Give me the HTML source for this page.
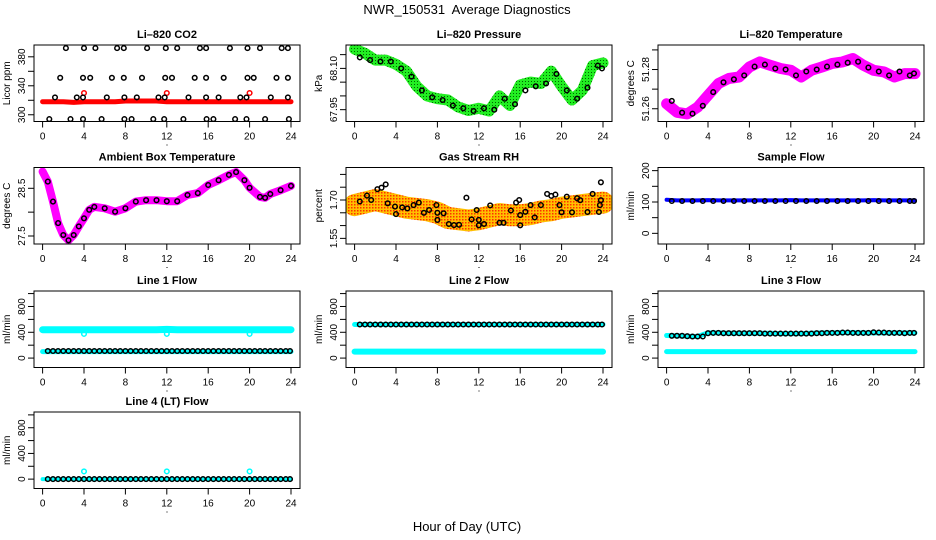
<!DOCTYPE html>
<html><head><meta charset="utf-8"><style>
html,body{margin:0;padding:0;background:#fff;}
svg{display:block;font-family:"Liberation Sans",Arial,sans-serif;}
</style></head><body>
<svg id="chart" width="936" height="540" viewBox="0 0 936 540" xmlns="http://www.w3.org/2000/svg">
<defs>
<pattern id="rhpat" width="3" height="3" patternUnits="userSpaceOnUse"><rect width="3" height="3" fill="#ffc000"/><rect width="1.5" height="1.5" fill="#ff3000"/></pattern>
<pattern id="grpat" width="3" height="3" patternUnits="userSpaceOnUse"><rect width="3" height="3" fill="#22ee22"/><rect width="1" height="1" fill="#006600"/></pattern>
</defs>
<text x="467" y="14" text-anchor="middle" font-size="13" style="white-space:pre">NWR_150531  Average Diagnostics</text>
<text x="467" y="531" text-anchor="middle" font-size="13">Hour of Day (UTC)</text>
</svg>
<script>
// ---- data ----
const hrs = [0,1,2,3,4,5,6,7,8,9,10,11,12,13,14,15,16,17,18,19,20,21,22,23,24];
const hrsHalf = [0.5,1.5,2.5,3.5,4.5,5.5,6.5,7.5,8.5,9.5,10.5,11.5,12.5,13.5,14.5,15.5,16.5,17.5,18.5,19.5,20.5,21.5,22.5,23.5,23.9];
const flowHours = [0.5,1,1.5,2,2.5,3,3.5,4,4.5,5,5.5,6,6.5,7,7.5,8,8.5,9,9.5,10,10.5,11,11.5,12,12.5,13,13.5,14,14.5,15,15.5,16,16.5,17,17.5,18,18.5,19,19.5,20,20.5,21,21.5,22,22.5,23,23.5,23.9];

const co2Red = [318,318,318,317,318,318,318,318,319,319,319,319,318,318,318,318,318,318,318,318,318,318,318,318,318];
const co2RedOutHours = [4,12,20];
const co2RedOut = [330,330,330];
const co2BlackHours = [2.25,4.0,5.1,7.2,7.85,10.1,11.9,13.0,15.2,15.8,18.1,19.8,21.0,23.1,23.7,
 1.7,3.9,4.6,6.7,7.85,9.6,11.85,12.5,14.7,15.8,17.5,19.8,20.4,22.6,23.7,
 1.2,3.3,3.9,6.2,7.9,9.1,11.2,11.8,14.1,15.8,17.0,19.1,19.7,22.05,23.7,
 0.65,2.7,3.9,5.7,7.9,8.6,10.7,11.75,13.6,15.85,16.5,18.6,19.7,21.5,23.8];
const co2Black = [392,392,392,392,392,392,392,392,392,392,392,392,392,392,392,
 351,351,351,351,351,351,351,351,351,351,351,351,351,351,351,
 324,324,324,324,324,324,324,324,324,324,324,324,324,324,324,
 294,294,294,294,294,294,294,294,294,294,294,294,294,294,294];

const presGreen = [68.17,68.155,68.13,68.13,68.115,68.09,68.035,68.0,67.99,67.985,67.96,67.947,67.955,67.945,68.0,67.965,68.04,68.05,68.045,68.09,68.035,67.985,68.02,68.11,68.12];
const presBlack = [68.14,68.13,68.125,68.125,68.10,68.07,68.02,67.995,67.985,67.965,67.955,67.945,67.955,67.95,67.99,67.97,68.02,68.035,68.045,68.08,68.02,67.99,68.03,68.11,68.10];

const tempMag = [51.2626,51.2582,51.2574,51.2608,51.2668,51.2728,51.2754,51.2762,51.2813,51.2839,51.2822,51.2805,51.2796,51.2762,51.2796,51.2813,51.2831,51.2839,51.2856,51.2822,51.2796,51.2788,51.2762,51.2779,51.2779];
const tempBlack = [51.2640,51.2580,51.2575,51.2615,51.2685,51.2735,51.2750,51.2770,51.2815,51.2825,51.2805,51.2800,51.2770,51.2790,51.2800,51.2815,51.2825,51.2835,51.2840,51.2810,51.2790,51.2770,51.2790,51.2770,51.2780];

const ambHours = [0,0.5,1,1.5,2,2.5,3,3.5,4,4.5,5,6,7,8,9,10,11,12,13,14,15,16,17,18,18.7,19.5,20,21,21.5,22,23,24];
const ambMag = [28.85,28.64,28.22,27.77,27.52,27.41,27.52,27.70,27.87,28.05,28.11,28.08,28.01,28.08,28.22,28.25,28.25,28.23,28.23,28.36,28.40,28.57,28.67,28.78,28.84,28.67,28.51,28.32,28.30,28.38,28.46,28.55];

const rhOrange = [1.68,1.69,1.70,1.69,1.68,1.67,1.665,1.66,1.65,1.63,1.625,1.62,1.625,1.635,1.645,1.64,1.64,1.645,1.655,1.66,1.67,1.675,1.68,1.685,1.69];
const rhBlackHours = [0.5,1.2,1.6,2.2,2.6,3.0,3.2,3.9,4.0,4.6,5.1,5.7,6.2,6.7,7.2,7.9,8.0,8.0,8.6,9.1,9.6,10.1,10.8,11.3,11.8,12.0,12.0,12.5,13.1,14.0,14.4,15.1,15.6,15.9,16.0,16.0,16.5,17.0,17.4,18.0,18.6,19.0,19.4,19.8,20.0,20.5,21.0,21.5,21.8,22.5,23.0,23.6,23.7,23.8,23.8];
const rhBlack = [1.694,1.717,1.70,1.742,1.748,1.761,1.687,1.674,1.645,1.671,1.667,1.680,1.690,1.650,1.661,1.680,1.650,1.622,1.648,1.606,1.602,1.603,1.709,1.624,1.661,1.622,1.601,1.606,1.679,1.611,1.611,1.659,1.690,1.700,1.641,1.601,1.654,1.680,1.632,1.680,1.724,1.716,1.721,1.680,1.652,1.713,1.652,1.707,1.699,1.653,1.724,1.653,1.680,1.699,1.769];

const sampleBlue = [107,105,105,105,106,105,105,105,105,105,105,105,106,105,105,105,105,105,105,105,106,105,105,105,105];
const sampleBlack = [103,103,103,103,103,103,103,103,103,103,103,103,103,103,103,103,103,103,103,103,103,103,103,103,103];

const line1CyanHi = [440,440,440,440,440,440,440,440,440,440,440,440,445,440,440,440,440,440,440,440,440,440,440,440,440];
const line1CyanLo = [100,100,100,100,100,100,100,100,100,100,100,100,100,100,100,100,100,100,100,100,100,100,100,100,100];
const line1CyanOutHours = [4,12,20];
const line1CyanOut = [375,375,375];
const line1Black = [110,110,110,110,110,110,110,110,110,110,110,110,110,110,110,110,110,110,110,110,110,110,110,110,110,110,110,110,110,110,110,110,110,110,110,110,110,110,110,110,110,110,110,110,110,110,110,110];

const line2CyanHi = [520,520,520,520,520,520,520,520,520,520,520,520,520,520,520,520,520,520,520,520,520,520,520,520,520];
const line2CyanLo = [100,100,100,100,100,100,100,100,100,100,100,100,100,100,100,100,100,100,100,100,100,100,100,100,100];
const line2Black = [520,520,520,520,520,520,520,520,520,520,520,520,520,520,520,520,520,520,520,520,520,520,520,520,520,520,520,520,520,520,520,520,520,520,520,520,520,520,520,520,520,520,520,520,520,520,520,520];

const line3CyanHi = [350,345,340,335,390,390,385,385,385,385,385,380,380,380,385,390,390,395,395,390,390,390,390,390,390];
const line3CyanLo = [100,100,100,100,100,100,100,100,100,100,100,100,100,100,100,100,100,100,100,100,100,100,100,100,100];
const line3Black = [345,345,345,340,335,335,335,385,390,390,385,385,385,385,385,385,385,385,380,380,380,380,380,380,380,380,380,380,385,385,390,390,390,395,395,390,390,390,390,400,395,395,390,390,390,385,390,390];

const line4Cyan = [0,0,0,0,0,0,0,0,0,0,0,0,0,0,0,0,0,0,0,0,0,0,0,0,0];
const line4CyanOutHours = [4,12,20];
const line4CyanOut = [120,120,120];
const line4Black = [0,0,0,0,0,0,0,0,0,0,0,0,0,0,0,0,0,0,0,0,0,0,0,0,0,0,0,0,0,0,0,0,0,0,0,0,0,0,0,0,0,0,0,0,0,0,0,0];

const xTicks = [0,4,8,12,16,20,24];
const flowTicks = [0,200,400,600,800,1000];
const flowLabels = ["0","","400","","800",""];

// ---- drawing ----
const svg = document.getElementById('chart');
const NS = 'http://www.w3.org/2000/svg';
const colL = [34,346,658], rowT = [45,167.5,291,412], W = 266, H = 76.5;
function mk(tag, attrs, parent){ const e=document.createElementNS(NS,tag); for(const k in attrs) e.setAttribute(k,attrs[k]); (parent||svg).appendChild(e); return e; }

function panel(name, c, r, title, ylab, ymin, ymax, yticks, ylabels){
  const L=colL[c], T=rowT[r];
  const g = mk('g',{});
  
  
  const xs = h => L + 8.6 + h*248.4/24;
  const ys = v => T + H - (v - ymin)/(ymax - ymin)*H;
  const t = mk('text',{x:L+W/2,y:T-7,'text-anchor':'middle','font-size':11,'font-weight':'bold'},g);
  t.textContent = title;
  
  
  const plot = mk('g',{},g);
  
  
  const xa = mk('g',{},g);
  
  
  xTicks.forEach(h=>{
    mk('line',{x1:xs(h),x2:xs(h),y1:T+H,y2:T+H+6,stroke:'#000'},xa);
    const tl = mk('text',{x:xs(h),y:T+H+18,'text-anchor':'middle','font-size':10},xa);
    tl.textContent = h;
  });
  mk('line',{x1:xs(0),x2:xs(24),y1:T+H,y2:T+H,stroke:'#000'},xa);
  mk('rect',{x:L+W/2-0.5,y:T+H+23,width:1,height:1,fill:'#000'},xa);
  const ya = mk('g',{},g);
  
  
  yticks.forEach((v,i)=>{
    mk('line',{x1:L-6,x2:L,y1:ys(v),y2:ys(v),stroke:'#000'},ya);
    if(ylabels[i]){
      const tl = mk('text',{x:0,y:0,'text-anchor':'middle','font-size':10,transform:`translate(${L-9},${ys(v)}) rotate(-90)`},ya);
      tl.textContent = ylabels[i];
    }
  });
  mk('line',{x1:L,x2:L,y1:ys(yticks[0]),y2:ys(yticks[yticks.length-1]),stroke:'#000'},ya);
  const yt = mk('text',{x:0,y:0,'text-anchor':'middle','font-size':10,transform:`translate(${L-24},${T+H/2}) rotate(-90)`},g);
  yt.textContent = ylab;
  
  
  const box = mk('rect',{x:L,y:T,width:W,height:H,fill:'none',stroke:'#000'},g);
  
  
  const clip = 'clip'+name;
  const cp = mk('clipPath',{id:clip},g); mk('rect',{x:L,y:T,width:W,height:H},cp);
  plot.setAttribute('clip-path','url(#'+clip+')');
  g.appendChild(box);
  return {plot, xs, ys};
}
function band(p, name, hx, vals, color, width){
  const d = hx.map((h,i)=>(i?'L':'M')+p.xs(h).toFixed(1)+' '+p.ys(vals[i]).toFixed(1)).join(' ');
  const e = mk('path',{d, fill:'none', stroke:color, 'stroke-width':width, 'stroke-linecap':'round','stroke-linejoin':'round'}, p.plot);
  
  
  return e;
}
function pts(p, name, hx, vals, color, r, sw){
  const g = mk('g',{}, p.plot);
  
  
  hx.forEach((h,i)=>{
    const c = mk('circle',{cx:p.xs(h).toFixed(1),cy:p.ys(vals[i]).toFixed(1),r:r||2.3,fill:'none',stroke:color,'stroke-width':sw||1.5},g);
    
    
  });
}

// CO2
let p = panel('co2',0,0,'Li\u2013820 CO2','Licor ppm',290.7,396.3,[300,320,340,360,380],['300','','340','','380']);
band(p,'co2-red-band',hrs,co2Red,'#ff0000',5);
pts(p,'co2-red-outliers',co2RedOutHours,co2RedOut,'#ff0000');
pts(p,'co2-black-points',co2BlackHours,co2Black,'#000');
// Pressure
p = panel('pressure',1,0,'Li\u2013820 Pressure','kPa',67.907,68.185,[67.95,68.00,68.05,68.10,68.15],['67.95','','','68.10','']);
band(p,'pressure-green-band',hrs,presGreen,'url(#grpat)',11);
pts(p,'pressure-black-points',hrsHalf,presBlack,'#000');
// Temperature
p = panel('temperature',2,0,'Li\u2013820 Temperature','degrees C',51.2535,51.2925,[51.26,51.27,51.28,51.29],['51.26','','51.28','']);
band(p,'temperature-magenta-band',hrs,tempMag,'#ff00ff',11);
pts(p,'temperature-black-points',hrsHalf,tempBlack,'#000');
// Ambient
p = panel('ambient',0,1,'Ambient Box Temperature','degrees C',27.332,28.936,[27.5,28.0,28.5],['27.5','','28.5']);
band(p,'ambient-magenta-band',ambHours,ambMag,'#ff00ff',8);
pts(p,'ambient-black-points',ambHours.slice(1),ambMag.slice(1),'#000');
// RH
p = panel('rh',1,1,'Gas Stream RH','percent',1.528,1.827,[1.55,1.60,1.65,1.70,1.75,1.80],['1.55','','','1.70','','']);
band(p,'rh-orange-band',hrs,rhOrange,'url(#rhpat)',22);
pts(p,'rh-black-points',rhBlackHours,rhBlack,'#000');
// Sample flow
p = panel('sample-flow',2,1,'Sample Flow','ml/min',-34,210,[0,50,100,150,200],['0','','100','','200']);
band(p,'sample-blue-band',hrs,sampleBlue,'#0000ff',4);
pts(p,'sample-black-points',hrsHalf,sampleBlack,'#000');
// Line 1
p = panel('line1-flow',0,2,'Line 1 Flow','ml/min',-146,1040,flowTicks,flowLabels);
band(p,'line1-cyan-high',hrs,line1CyanHi,'#00ffff',7);
pts(p,'line1-cyan-outliers',line1CyanOutHours,line1CyanOut,'#00ffff');
band(p,'line1-cyan-low',hrs,line1CyanLo,'#00ffff',5);
pts(p,'line1-black-points',flowHours,line1Black,'#000');
// Line 2
p = panel('line2-flow',1,2,'Line 2 Flow','ml/min',-146,1040,flowTicks,flowLabels);
band(p,'line2-cyan-high',hrs,line2CyanHi,'#00ffff',5);
band(p,'line2-cyan-low',hrs,line2CyanLo,'#00ffff',6);
pts(p,'line2-black-points',flowHours,line2Black,'#000');
// Line 3
p = panel('line3-flow',2,2,'Line 3 Flow','ml/min',-146,1040,flowTicks,flowLabels);
band(p,'line3-cyan-high',hrs,line3CyanHi,'#00ffff',5);
band(p,'line3-cyan-low',hrs,line3CyanLo,'#00ffff',5);
pts(p,'line3-black-points',flowHours,line3Black,'#000');
// Line 4
p = panel('line4-flow',0,3,'Line 4 (LT) Flow','ml/min',-146,1045,flowTicks,flowLabels);
band(p,'line4-cyan',hrs,line4Cyan,'#00ffff',4);
pts(p,'line4-cyan-outliers',line4CyanOutHours,line4CyanOut,'#00ffff');
pts(p,'line4-black-points',flowHours,line4Black,'#000');
</script>
</body></html>
